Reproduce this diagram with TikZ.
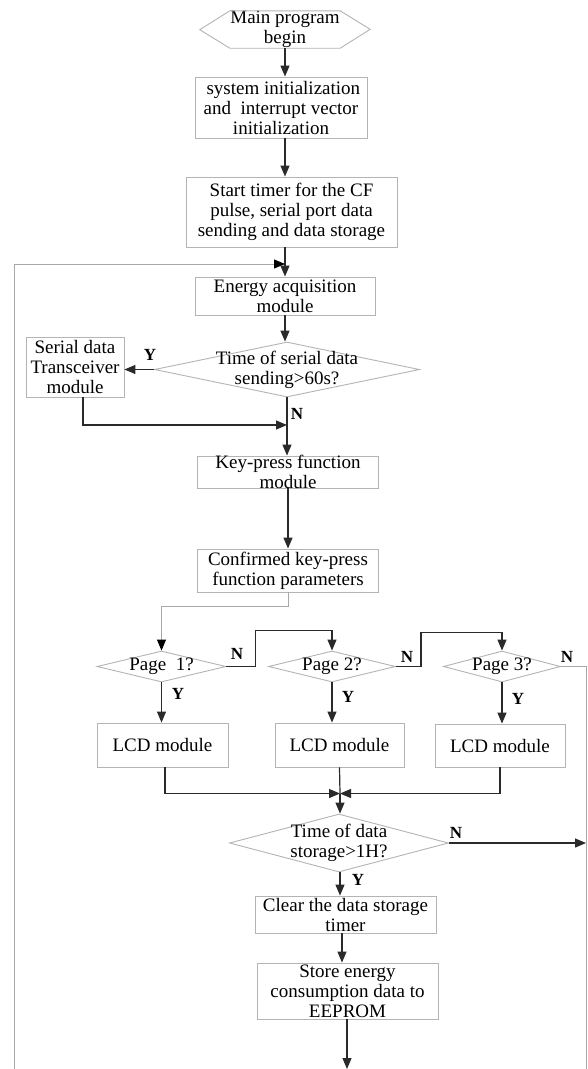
\documentclass[tikz,border=0pt]{standalone}
\usepackage{fontspec}
\setmainfont{Liberation Serif}
\usetikzlibrary{arrows.meta,shapes.geometric,calc}
\definecolor{boxc}{HTML}{B4B4B4}
\definecolor{linec}{HTML}{2A2A2A}
\definecolor{loopc}{HTML}{A8A8A8}
\begin{document}
\begin{tikzpicture}[x=1pt,y=-1pt,
  box/.style={draw=boxc, line width=0.9pt, inner sep=0pt},
  dia/.style={diamond, draw=boxc, line width=0.9pt, inner sep=0pt},
  txt/.style={font=\fontsize{19}{20}\selectfont, align=center, inner sep=0pt},
  yn/.style={font=\bfseries\fontsize{17}{17}\selectfont, inner sep=0pt},
  arr/.style={draw=linec, line width=1.2pt, -{Triangle[length=11pt,width=9pt]}},
  ln/.style={draw=linec, line width=1.2pt},
  garr/.style={draw=loopc, line width=0.9pt, -{Triangle[length=11pt,width=9pt,color=black]}},
  gln/.style={draw=loopc, line width=0.9pt}]
\fill[white] (0,0) rectangle (587,1069);
\useasboundingbox (0,0) rectangle (587,1069);

% start hexagon
\node[inner sep=0pt, minimum width=110, minimum height=37, label={[txt]center:{Main program\\begin}}] (start) at (285,29.5) {};
\draw[boxc, line width=0.9pt] (start.north west) -- (start.north east) -- ++(30,18.5) -- (start.south east) -- (start.south west) -- ++(-30,-18.5) -- cycle;

\node[box, minimum width=172, minimum height=61, label={[txt]center:{\ system initialization\\and\ \ interrupt vector\\initialization}}] (sys) at (281,107.5) {};
\node[box, minimum width=211, minimum height=70, label={[txt]center:{Start timer for the CF\\pulse, serial port data\\sending and data storage}}] (tmr) at (291.5,212) {};
\node[box, minimum width=180, minimum height=38, label={[txt]center:{Energy acquisition\\module}}] (energy) at (285,296) {};
\node[dia, minimum width=265, minimum height=55, label={[txt]center:{Time of serial data\\sending>60s?}}] (d1) at (287,369.5) {};
\node[box, minimum width=98, minimum height=60, label={[txt]center:{Serial data\\Transceiver\\module}}] (serial) at (75,367) {};
\node[box, minimum width=181, minimum height=32, label={[txt]center:{Key-press function\\module}}] (key) at (288,472) {};
\node[box, minimum width=181, minimum height=43, label={[txt]center:{Confirmed key-press\\function parameters}}] (conf) at (288,570.5) {};

\node[dia, minimum width=129, minimum height=31, label={[txt]center:{Page\ \ 1?}}] (p1) at (161.5,666.5) {};
\node[dia, minimum width=127, minimum height=31, label={[txt]center:{Page 2?}}] (p2) at (332,666.5) {};
\node[dia, minimum width=117, minimum height=31, label={[txt]center:{Page 3?}}] (p3) at (502,666.5) {};

\node[box, minimum width=131, minimum height=44, label={[txt]center:{LCD module}}] (lcd1) at (162.5,745) {};
\node[box, minimum width=129, minimum height=44, label={[txt]center:{LCD module}}] (lcd2) at (339.5,745) {};
\node[box, minimum width=130, minimum height=43, label={[txt]center:{LCD module}}] (lcd3) at (500,745.5) {};

\node[dia, minimum width=219, minimum height=58, label={[txt]center:{Time of data\\storage>1H?}}] (d2) at (339,843) {};
\node[box, minimum width=181, minimum height=37, label={[txt]center:{Clear the data storage\\timer}}] (clr) at (345.5,914.5) {};
\node[box, minimum width=181, minimum height=56, label={[txt]center:{Store energy\\consumption data to\\EEPROM}}] (store) at (347.5,991) {};

% coordinates
\coordinate (loopbot) at (14,1069);
\coordinate (loopj) at (285,264);
\coordinate (j1) at (287,425);
\coordinate (j2) at (340,793.5);
\coordinate (rbot) at (586,1069);
\coordinate (nend) at (586,843);
\coordinate (send) at (347,1069);

% connectors
\draw[arr] (start.south) -- (start.south |- sys.north);
\draw[arr] (start.south |- sys.south) -- (start.south |- tmr.north);
\draw[arr] (energy.north |- tmr.south) -- (energy.north);
\draw[garr] (loopbot) |- (loopj);
\draw[arr] (energy.south) -- (energy.south |- d1.north);
\draw[arr] (d1.west) -- (d1.west -| serial.east);
\draw[arr] ([xshift=8pt]serial.south) |- (j1);
\draw[arr] (d1.south) -- (d1.south |- key.north);
\draw[arr] (key.south) -- (conf.north);
\draw[garr] (conf.south) -- ++(0,14) -| (p1.north);
\draw[arr] (p1.east) -- ++(29,0) |- ([yshift=20pt]p2.north) -- (p2.north);
\draw[arr] (p2.east) -- ++(25,0) |- ([yshift=18pt]p3.north) -- (p3.north);
\draw[gln] (p3.east) -| (rbot);
\draw[arr] (p1.south) -- (p1.south |- lcd1.north);
\draw[arr] (p2.south) -- (p2.south |- lcd2.north);
\draw[arr] (p3.south) -- (p3.south |- lcd3.north);
\draw[arr] ([xshift=2.5pt]lcd1.south) |- (j2);
\draw[arr] (lcd3.south) |- (j2);
\draw[ln] (lcd2.south) -- (j2);
\draw[arr] (j2) -- (j2 |- d2.north);
\draw[arr] (d2.east) -- (nend);
\draw[arr] (d2.south -| j2) -- (j2 |- clr.north);
\draw[arr] (clr.south -| 342,0) -- (342,0 |- store.north);
\draw[arr] (store.south -| send) -- (send);

% Y / N labels
\node[yn] (ly1) at (150,355) {Y};
\node[yn] (ln1) at (297,414) {N};
\node[yn] (ln2) at (237,654) {N};
\node[yn] (ln3) at (407,657) {N};
\node[yn] (ln4) at (567,657) {N};
\node[yn] (ly2) at (178,694) {Y};
\node[yn] (ly3) at (348,697) {Y};
\node[yn] (ly4) at (518,699) {Y};
\node[yn] (ln5) at (456,833) {N};
\node[yn] (ly5) at (358,880) {Y};
\end{tikzpicture}
\end{document}
